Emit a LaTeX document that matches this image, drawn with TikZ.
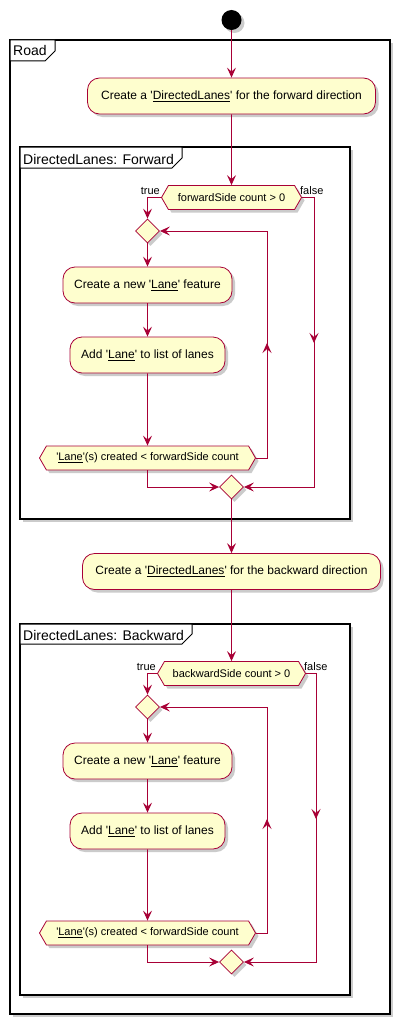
\documentclass[tikz,border=0pt]{standalone}
\usepackage{fontspec}
\setmainfont{Liberation Sans}
\usetikzlibrary{arrows.meta,shapes.geometric,shapes.symbols,shadows,calc}
\definecolor{pborder}{HTML}{A80036}
\definecolor{pfill}{HTML}{FEFECE}
\newcommand{\sq}{\textquotesingle}
\begin{document}
\begin{tikzpicture}[x=1pt,y=-1pt,
  shad/.style={drop shadow={shadow xshift=3pt,shadow yshift=-3pt,fill=black!40,opacity=0.5}},
  action/.style={draw=pborder,fill=pfill,rounded corners=12pt,line width=0.8pt,font=\fontsize{12}{14}\selectfont,minimum height=36pt,inner sep=0pt,shad},
  cond/.style={signal,signal to=east and west,signal from=nowhere,signal pointer angle=120,draw=pborder,fill=pfill,line width=0.8pt,font=\fontsize{11}{13}\selectfont,minimum height=24pt,inner sep=0pt,shad},
  merge/.style={diamond,draw=pborder,fill=pfill,line width=0.8pt,minimum width=24pt,minimum height=24pt,inner sep=0pt,shad},
  flow/.style={draw=pborder,line width=0.9pt,-{Stealth[length=10pt,width=9pt,inset=4pt]}},
  frm/.style={draw=black,line width=1.4pt,fill=white,inner sep=0pt,shad},
  tab/.style={draw=black,line width=1pt,fill=white},
  frmlabel/.style={font=\fontsize{14}{16}\selectfont,inner sep=0pt,anchor=base west},
  blabel/.style={font=\fontsize{11}{13}\selectfont,inner sep=0pt}
]
\useasboundingbox (0,0) rectangle (401,1025);

% frames
\node[frm,minimum width=380pt,minimum height=974pt] (road) at (200,527) {};
\draw[tab] (10,40) -- (55,40) -- (55,51) -- (45,61) -- (10,61) -- cycle;
\node[frmlabel] (roadlbl) at (13,56) {Road};

\node[frm,minimum width=330pt,minimum height=372pt] (ffrm) at (185,333) {};
\draw[tab] (20,147) -- (182,147) -- (182,158) -- (172,168) -- (20,168) -- cycle;
\node[frmlabel] (ffrmlbl) at (23,164) {DirectedLanes: Forward};

\node[frm,minimum width=330pt,minimum height=371pt] (bfrm) at (185,809.5) {};
\draw[tab] (20,624) -- (192,624) -- (192,634) -- (182,644) -- (20,644) -- cycle;
\node[frmlabel] (bfrmlbl) at (23,640) {DirectedLanes: Backward};

% start
\node[circle,fill=black,minimum size=20pt,inner sep=0pt,shad] (start) at (231.5,20) {};

% forward
\node[action,minimum width=288pt] (a1) at (231.5,96) {Create a \sq\underline{DirectedLanes}\sq{} for the forward direction};
\node[cond,minimum width=140pt] (h1) at (231.5,197.5) {forwardSide count > 0};
\node[blabel,anchor=base east] (t1) at ($(h1.west)+(-1,-3.5)$) {true};
\node[blabel,anchor=base west] (f1l) at ($(h1.east)+(-2,-3.5)$) {false};
\node[merge] (d1) at (147.5,231) {};
\node[action,minimum width=169pt] (l1) at (147.5,285) {Create a new \sq\underline{Lane}\sq{} feature};
\node[action,minimum width=155pt] (ad1) at (147.5,355) {Add \sq\underline{Lane}\sq{} to list of lanes};
\node[cond,minimum width=216pt] (h2) at (147.5,458) {\sq\underline{Lane}\sq(s) created < forwardSide count};
\node[merge] (m1) at (231.5,487) {};
\coordinate (r1) at (267,458);
\coordinate (r1t) at (267,231);
\coordinate (r1m) at (267,343);
\coordinate (q1) at (314,197.5);
\coordinate (q1b) at (314,487);
\coordinate (q1m) at (314,343);

\draw[flow] (start) -- (a1);
\draw[flow] (a1) -- (h1);
\draw[flow] (h1.west) -| (d1.north);
\draw[flow] (d1) -- (l1);
\draw[flow] (l1) -- (ad1);
\draw[flow] (ad1) -- (h2);
\draw[flow] (h2.east) -- (r1) -- (r1t) -- (d1.east);
\draw[flow] (r1) -- (r1m);
\draw[flow] (h1.east) -- (q1) -- (q1b) -- (m1.east);
\draw[flow] (q1) -- (q1m);
\draw[flow] (h2.south) |- (m1.west);

% backward
\node[action,minimum width=298pt] (a2) at (231.5,571.5) {Create a \sq\underline{DirectedLanes}\sq{} for the backward direction};
\node[cond,minimum width=148pt] (h3) at (231.5,673.5) {backwardSide count > 0};
\node[blabel,anchor=base east] (t2) at ($(h3.west)+(-1,-3.5)$) {true};
\node[blabel,anchor=base west] (f2l) at ($(h3.east)+(-2,-3.5)$) {false};
\node[merge] (d2) at (147.5,707) {};
\node[action,minimum width=169pt] (l2) at (147.5,761) {Create a new \sq\underline{Lane}\sq{} feature};
\node[action,minimum width=155pt] (ad2) at (147.5,831) {Add \sq\underline{Lane}\sq{} to list of lanes};
\node[cond,minimum width=216pt] (h4) at (147.5,933) {\sq\underline{Lane}\sq(s) created < forwardSide count};
\node[merge] (m2) at (231.5,962) {};
\coordinate (r2) at (267,933);
\coordinate (r2t) at (267,707);
\coordinate (r2m) at (267,819);
\coordinate (q2) at (316,673.5);
\coordinate (q2b) at (316,962);
\coordinate (q2m) at (316,819);

\draw[flow] (m1) -- (a2);
\draw[flow] (a2) -- (h3);
\draw[flow] (h3.west) -| (d2.north);
\draw[flow] (d2) -- (l2);
\draw[flow] (l2) -- (ad2);
\draw[flow] (ad2) -- (h4);
\draw[flow] (h4.east) -- (r2) -- (r2t) -- (d2.east);
\draw[flow] (r2) -- (r2m);
\draw[flow] (h3.east) -- (q2) -- (q2b) -- (m2.east);
\draw[flow] (q2) -- (q2m);
\draw[flow] (h4.south) |- (m2.west);
\end{tikzpicture}
\end{document}
